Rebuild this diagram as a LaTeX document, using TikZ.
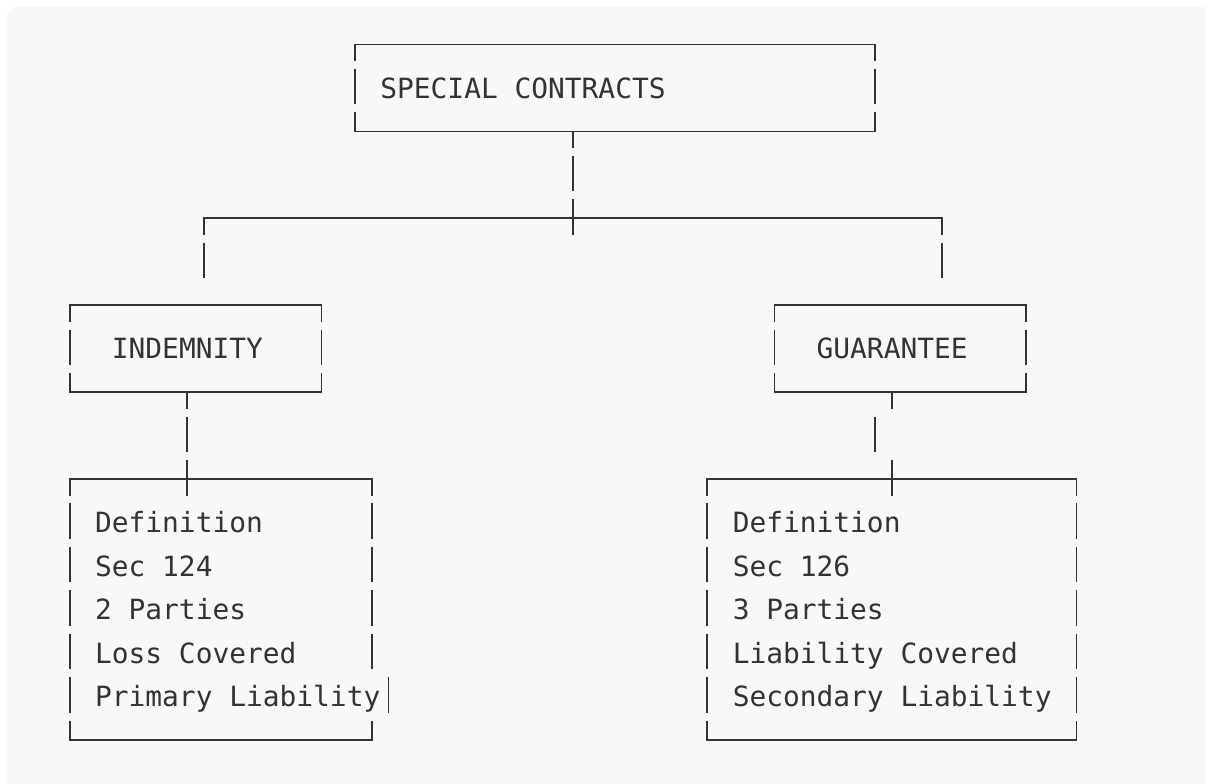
\documentclass[tikz,border=0pt]{standalone}
\usepackage{fontspec}
\newfontfamily\monofont{DejaVu Sans Mono}
\definecolor{ink}{HTML}{333333}
\definecolor{paper}{HTML}{F8F8F8}
\tikzset{
  ln/.style={draw=ink, line width=1.8pt, line join=miter},
  txt/.style={font=\monofont\fontsize{27.87}{33}\selectfont, text=ink,
              inner sep=0pt, anchor=base west},
}
% character grid: column c -> x centre, row r -> y centre
\newcommand\cx[1]{355+16.78*(#1)}
\newcommand\ry[1]{44.5+43.45*(#1)}
% one cell of a vertical rule, full height
\newcommand\vfull[2]{\draw[ln] ({\cx{#1}},{\ry{#2}-19}) -- ({\cx{#1}},{\ry{#2}+16.5});}
% lower half of a cell (tee pointing down)
\newcommand\vdown[2]{\draw[ln] ({\cx{#1}},{\ry{#2}}) -- ({\cx{#1}},{\ry{#2}+16.5});}
% top edge of a frame with its two corner stubs: cols a..b on row r
\newcommand\frametop[3]{\draw[ln] ({\cx{#1}},{\ry{#3}+16.5}) -- ({\cx{#1}},{\ry{#3}})
  -- ({\cx{#2}},{\ry{#3}}) -- ({\cx{#2}},{\ry{#3}+16.5});}
% bottom edge of a frame with its two corner stubs
\newcommand\framebot[3]{\draw[ln] ({\cx{#1}},{\ry{#3}-19}) -- ({\cx{#1}},{\ry{#3}})
  -- ({\cx{#2}},{\ry{#3}}) -- ({\cx{#2}},{\ry{#3}-19});}
% text starting at the left edge of cell (c, r)
\newcommand\celltext[4]{\node[txt] (#1) at ({\cx{#2}-8.39},{\ry{#3}+10.3}) {#4};}

\begin{document}
\begin{tikzpicture}[x=1pt, y=-1pt]
\useasboundingbox (0,0) rectangle (1205,784);
\clip (0,0) rectangle (1205,784);
\fill[white] (0,0) rectangle (1205,784);
\fill[paper, rounded corners=10pt] (7,7) rectangle (1240,820);

% ---- SPECIAL CONTRACTS ----
\frametop{0}{31}{0}
\vfull{0}{1}\vfull{31}{1}
\framebot{0}{31}{2}
\celltext{title}{2}{1}{SPECIAL CONTRACTS}

% ---- trunk and branch ----
\vdown{13}{2}
\vfull{13}{3}
\frametop{-9}{35}{4}
\vfull{13}{4}
\vfull{-9}{5}
\vfull{35}{5}

% ---- INDEMNITY ----
\frametop{-17}{-2}{6}
\vfull{-17}{7}\vfull{-2}{7}
\framebot{-17}{-2}{8}
\celltext{indemnity}{-14}{7}{INDEMNITY}
\vdown{-10}{8}
\vfull{-10}{9}

% ---- GUARANTEE ----
\frametop{25}{40}{6}
\vfull{25}{7}\vfull{40}{7}
\framebot{25}{40}{8}
\celltext{guarantee}{28}{7}{GUARANTEE}
\vdown{32}{8}
\vfull{31}{9}

% ---- indemnity details ----
\frametop{-17}{1}{10}
\vfull{-10}{10}
\foreach \r in {11,...,15} {\vfull{-17}{\r}}
\foreach \r in {11,...,14} {\vfull{1}{\r}}
\vfull{2}{15}
\framebot{-17}{1}{16}
\celltext{ld1}{-15}{11}{Definition}
\celltext{ld2}{-15}{12}{Sec 124}
\celltext{ld3}{-15}{13}{2 Parties}
\celltext{ld4}{-15}{14}{Loss Covered}
\celltext{ld5}{-15}{15}{Primary Liability}

% ---- guarantee details ----
\frametop{21}{43}{10}
\vfull{32}{10}
\foreach \r in {11,...,15} {\vfull{21}{\r}\vfull{43}{\r}}
\framebot{21}{43}{16}
\celltext{rd1}{23}{11}{Definition}
\celltext{rd2}{23}{12}{Sec 126}
\celltext{rd3}{23}{13}{3 Parties}
\celltext{rd4}{23}{14}{Liability Covered}
\celltext{rd5}{23}{15}{Secondary Liability}
\end{tikzpicture}
\end{document}
